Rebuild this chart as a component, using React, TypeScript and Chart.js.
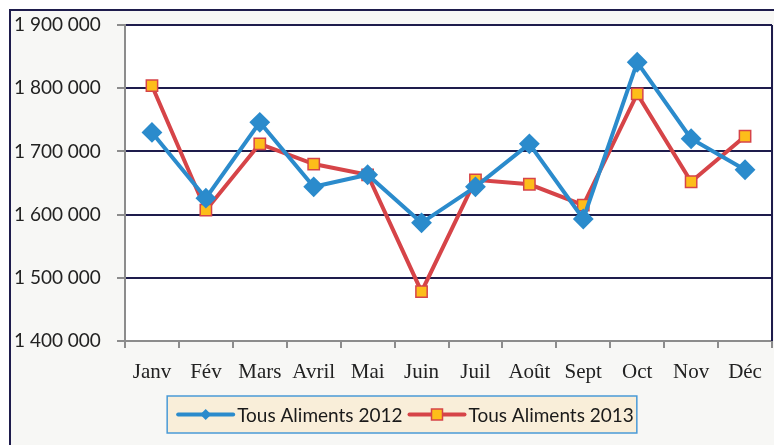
import React, { useEffect, useRef } from "react";
import { Chart, registerables } from "chart.js";

Chart.register(...registerables);

const months = ["Janv", "Fév", "Mars", "Avril", "Mai", "Juin", "Juil", "Août", "Sept", "Oct", "Nov", "Déc"];
const series2012 = [1730000, 1626000, 1746000, 1644000, 1663000, 1587000, 1644000, 1712000, 1593000, 1841000, 1720000, 1671000];
const series2013 = [1804000, 1607000, 1712000, 1680000, 1663000, 1478000, 1655000, 1648000, 1615000, 1791000, 1652000, 1724000];
const yTicks = [1400000, 1500000, 1600000, 1700000, 1800000, 1900000];
const seriesLabels = ["Tous Aliments 2012", "Tous Aliments 2013"];

const BLUE = "#2b8bcc";
const RED = "#d64448";
const YELLOW = "#fdbd1a";
const NAVY = "#1e1c4c";
const GREY = "#8c8c8c";

const fmt = (v: number) => String(Math.round(v)).replace(/\B(?=(\d{3})+(?!\d))/g, " ");

const bgPlugin = {
  id: "bgPlugin",
  beforeDraw(chart: any) {
    const { ctx, chartArea } = chart;
    ctx.save();
    ctx.fillStyle = "#ffffff";
    ctx.fillRect(chartArea.left, chartArea.top, chartArea.right - chartArea.left, chartArea.bottom - chartArea.top);
    ctx.restore();
  },
  afterDatasetsDraw(chart: any) {
    const { ctx, chartArea } = chart;
    ctx.save();
    ctx.strokeStyle = NAVY;
    ctx.lineWidth = 2;
    ctx.beginPath();
    ctx.moveTo(chartArea.right, chartArea.top);
    ctx.lineTo(chartArea.right, chartArea.bottom);
    ctx.stroke();
    ctx.restore();
  },
  afterDraw(chart: any) {
    const { ctx } = chart;
    const font = "19px Lato";
    ctx.save();
    ctx.font = font;
    const lineLen = 55;
    const textGap = 4;
    const itemGap = 7;
    const widths = seriesLabels.map((t) => ctx.measureText(t).width);
    const total = widths.reduce((a, b) => a + b, 0) + seriesLabels.length * (lineLen + textGap) + itemGap;
    const cx = 406;
    const boxTop = chart.scales.x.bottom;
    const boxH = 37;
    const startX = cx - total / 2;
    ctx.fillStyle = "#f9eed9";
    ctx.fillRect(startX - 11, boxTop, total + 14, boxH);
    ctx.strokeStyle = "#4a9ad6";
    ctx.lineWidth = 1.5;
    ctx.strokeRect(startX - 11, boxTop, total + 14, boxH);
    const cy = boxTop + boxH / 2;
    let x = startX;
    seriesLabels.forEach((label, i) => {
      const color = i === 0 ? BLUE : RED;
      ctx.strokeStyle = color;
      ctx.lineWidth = 4;
      ctx.lineCap = "round";
      ctx.beginPath();
      ctx.moveTo(x, cy);
      ctx.lineTo(x + lineLen, cy);
      ctx.stroke();
      const mx = x + lineLen / 2;
      if (i === 0) {
        ctx.fillStyle = BLUE;
        ctx.beginPath();
        ctx.moveTo(mx, cy - 5.5);
        ctx.lineTo(mx + 5.5, cy);
        ctx.lineTo(mx, cy + 5.5);
        ctx.lineTo(mx - 5.5, cy);
        ctx.closePath();
        ctx.fill();
      } else {
        ctx.fillStyle = YELLOW;
        ctx.fillRect(mx - 5.5, cy - 5.5, 11, 11);
        ctx.strokeStyle = RED;
        ctx.lineWidth = 1.5;
        ctx.strokeRect(mx - 5.5, cy - 5.5, 11, 11);
      }
      ctx.fillStyle = "#1a1a1a";
      ctx.textBaseline = "middle";
      ctx.textAlign = "left";
      ctx.fillText(label, x + lineLen + textGap, cy + 1);
      x += lineLen + textGap + widths[i] + itemGap;
    });
    ctx.restore();
  },
};

function ChartView() {
  const ref = useRef<HTMLCanvasElement | null>(null);
  useEffect(() => {
    if (!ref.current) return;
    const chart = new Chart(ref.current, {
      type: "line",
      data: {
        labels: months,
        datasets: [
          {
            label: seriesLabels[0],
            data: series2012,
            borderColor: BLUE,
            backgroundColor: BLUE,
            borderWidth: 4,
            pointStyle: "rectRot",
            pointRadius: 9,
            pointBorderWidth: 2,
            pointBackgroundColor: BLUE,
            pointBorderColor: BLUE,
            tension: 0,
          },
          {
            label: seriesLabels[1],
            data: series2013,
            borderColor: RED,
            backgroundColor: YELLOW,
            borderWidth: 4,
            pointStyle: "rect",
            pointRadius: 8,
            pointBorderWidth: 1.5,
            pointBackgroundColor: YELLOW,
            pointBorderColor: RED,
            tension: 0,
          },
        ],
      },
      options: {
        animation: false,
        responsive: false,
        maintainAspectRatio: false,
        layout: { padding: { left: 14, top: 25, right: 2, bottom: 49 } },
        plugins: { legend: { display: false }, tooltip: { enabled: false } },
        scales: {
          x: {
            offset: true,
            grid: {
              offset: true,
              drawOnChartArea: false,
              tickColor: GREY,
              tickLength: 7,
              lineWidth: 2,
            },
            border: { color: GREY, width: 2 },
            ticks: {
              font: { family: "Liberation Serif", size: 21 },
              color: "#222222",
              padding: 12,
              maxRotation: 0,
            },
            afterFit(scale: any) {
              scale.height = 55;
            },
          },
          y: {
            min: yTicks[0],
            max: yTicks[yTicks.length - 1],
            afterBuildTicks(scale: any) {
              scale.ticks = yTicks.map((v) => ({ value: v }));
            },
            grid: {
              color: (c: any) => (c.tick && c.tick.value === yTicks[0] ? GREY : NAVY),
              tickColor: GREY,
              tickLength: 8,
              lineWidth: 2,
            },
            border: { color: GREY, width: 2 },
            ticks: {
              crossAlign: "far",
              font: { family: "Lato", size: 19 },
              color: "#222222",
              callback: (v: any) => fmt(Number(v)),
            },
            afterFit(scale: any) {
              scale.width = 111;
            },
          },
        },
      },
      plugins: [bgPlugin],
    } as any);
    return () => chart.destroy();
  }, []);
  return <canvas ref={ref} width={783} height={445} style={{ position: "absolute", left: 0, top: 0, width: 783, height: 445 }} />;
}

export default function App() {
  return (
    <div style={{ position: "fixed", left: 0, top: 0, width: 774, height: 445, overflow: "hidden", background: "#ffffff" }}>
      <div
        style={{
          position: "absolute",
          left: 9,
          top: 9,
          width: 820,
          height: 500,
          border: `2px solid ${NAVY}`,
          background: "#f7f7f5",
        }}
      />
      <ChartView />
    </div>
  );
}
